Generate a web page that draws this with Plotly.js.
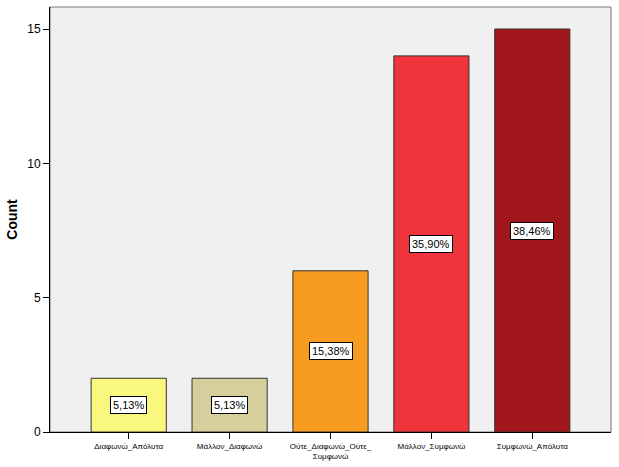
<!DOCTYPE html>
<html><head><meta charset="utf-8">
<script src="https://cdn.plot.ly/plotly-3.0.1.min.js"></script>
<style>html,body{margin:0;padding:0;background:#fff}</style>
</head><body><div id="chart" style="width:619px;height:467px"></div>
<script>
const categories = ["Διαφωνώ_Απόλυτα","Μάλλον_Διαφωνώ","Ούτε_Διαφωνώ_Ούτε_<br>Συμφωνώ","Μάλλον_Συμφωνώ","Συμφωνώ_Απόλυτα"];
const counts = [2, 2, 6, 14, 15];
const percentLabels = ["5,13%","5,13%","15,38%","35,90%","38,46%"];
const barColors = ["#f9f77d","#d6cf9b","#f79b21","#f0343c","#a1161b"];
const yTicks = [0,5,10,15];

const trace = {
  type: "bar",
  x: categories.map((c,i)=>i),
  y: counts,
  width: 0.745,
  marker: {color: barColors, line: {color: "#333333", width: 1}},
  hoverinfo: "none"
};
const annotations = counts.map((v,i)=>({
  x: i, y: v/2, xref: "x", yref: "y",
  text: percentLabels[i], showarrow: false,
  bgcolor: "#ffffff", bordercolor: "#000000", borderwidth: 1, borderpad: 2,
  font: {family: "Arial, Liberation Sans, sans-serif", size: 11, color: "#000"}
}));
const layout = {
  width: 619, height: 467,
  margin: {l: 50, r: 8, t: 7, b: 35},
  paper_bgcolor: "#ffffff",
  plot_bgcolor: "#f0f0f0",
  showlegend: false,
  font: {family: "Arial, Liberation Sans, sans-serif", color: "#000"},
  xaxis: {
    range: [-0.78, 4.78],
    tickmode: "array", tickvals: categories.map((c,i)=>i), ticktext: categories,
    ticks: "outside", ticklen: 6, tickcolor: "#000", tickwidth: 1,
    tickfont: {size: 8, color: "#000"},
    showline: true, linecolor: "#000", linewidth: 1,
    showgrid: false, zeroline: false, tickangle: 0
  },
  yaxis: {
    range: [0, 15.82],
    tickmode: "array", tickvals: yTicks,
    ticks: "outside", ticklen: 6, tickcolor: "#000",
    tickfont: {size: 12, color: "#000"},
    showline: true, linecolor: "#000", linewidth: 1,
    showgrid: false, zeroline: false,
    title: {text: "<b>Count</b>", font: {size: 14, color: "#000"}, standoff: 6}
  },
  shapes: [{type: "rect", xref: "paper", yref: "paper", x0: 0, x1: 1, y0: 0, y1: 1,
    line: {color: "#777777", width: 1}, layer: "below"}],
  annotations: annotations
};
Plotly.newPlot("chart", [trace], layout, {displayModeBar: false, staticPlot: true});
</script></body></html>
